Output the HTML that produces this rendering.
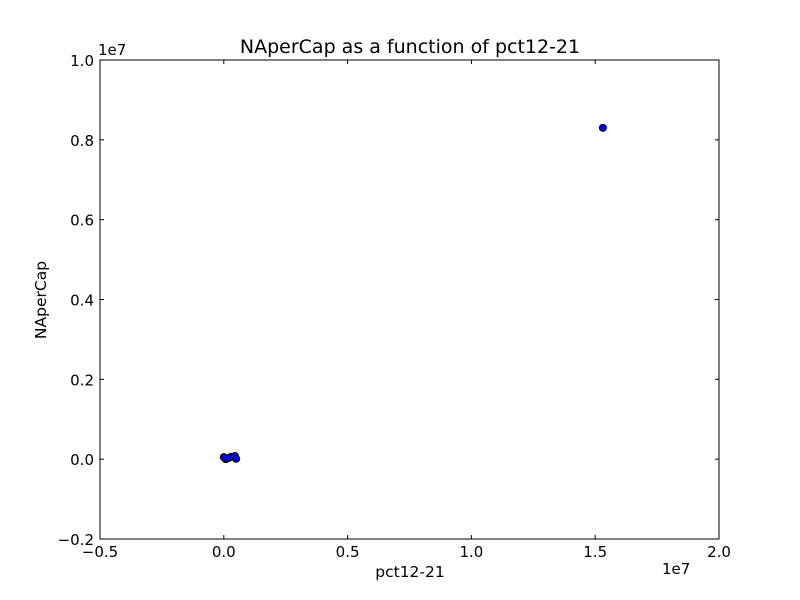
<!DOCTYPE html>
<html><head><meta charset="utf-8"><style>body{margin:0;background:#fff}svg{display:block;font-family:"DejaVu Sans","Liberation Sans",sans-serif}</style></head>
<body>
<svg id="chart" width="800" height="600">
<rect width="800" height="600" fill="#fff"/>
<text x="410" y="53" font-size="19" text-anchor="middle">NAperCap as a function of pct12-21</text>
<text x="410" y="577" font-size="15.5" text-anchor="middle">pct12-21</text>
<text x="46" y="300" font-size="15.5" text-anchor="middle" transform="rotate(-90 46 300)">NAperCap</text>
<text x="98" y="55" font-size="15">1e7</text>
<text x="662" y="574" font-size="15">1e7</text>
<g id="ticks"></g>
<g id="points"></g>
<rect x="100" y="60" width="619" height="479" fill="none" stroke="#000" stroke-width="1"/>
</svg>
<script>
const xTicks=[-0.5,0,0.5,1.0,1.5,2.0];
const xTickLabels=["\u22120.5","0.0","0.5","1.0","1.5","2.0"];
const yTicks=[-0.2,0,0.2,0.4,0.6,0.8,1.0];
const yTickLabels=["\u22120.2","0.0","0.2","0.4","0.6","0.8","1.0"];
const xValues=[0.008,0.0,0.03,0.045,0.05,0.002,0.02,1.531];
const yValues=[0.0,0.005,0.006,0.008,0.001,0.004,0.003,0.830];
const NS="http://www.w3.org/2000/svg";
const X=v=>100+(v+0.5)/2.5*619;
const Y=v=>539-(v+0.2)/1.2*479;
const tg=document.getElementById('ticks');
function mk(t,a,p){const e=document.createElementNS(NS,t);for(const k in a)e.setAttribute(k,a[k]);p.appendChild(e);return e;}
xTicks.forEach((v,i)=>{const x=X(v);
mk('line',{x1:x,x2:x,y1:539,y2:535,stroke:'#000'},tg);
mk('line',{x1:x,x2:x,y1:60,y2:64,stroke:'#000'},tg);
const t=mk('text',{x:x,y:557,'font-size':15,'text-anchor':'middle'},tg);t.textContent=xTickLabels[i];

});
yTicks.forEach((v,i)=>{const y=Y(v);
mk('line',{x1:100,x2:104,y1:y,y2:y,stroke:'#000'},tg);
mk('line',{x1:719,x2:715,y1:y,y2:y,stroke:'#000'},tg);
const t=mk('text',{x:94,y:y+6,'font-size':15,'text-anchor':'end'},tg);t.textContent=yTickLabels[i];

});
const pg=document.getElementById('points');
xValues.forEach((v,i)=>{const c=mk('circle',{cx:X(v),cy:Y(yValues[i]),r:3.5,fill:'#0000ff',stroke:'#000','stroke-width':1},pg);

});
</script>
</body></html>
